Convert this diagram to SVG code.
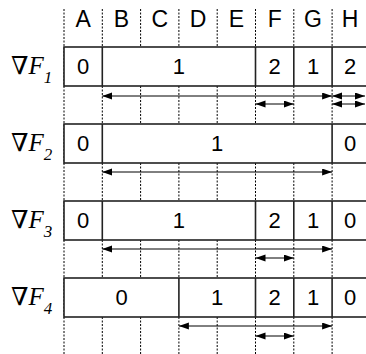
<svg xmlns="http://www.w3.org/2000/svg" width="366" height="354" viewBox="0 0 366 354">
<style>
.grid{stroke:#000;stroke-width:1;stroke-dasharray:2,1.5;fill:none}
.box{fill:#fff;stroke:#222;stroke-width:1.6}
.div{stroke:#222;stroke-width:1.6}
.col{font-family:"Liberation Sans",Arial,sans-serif;font-size:23px;text-anchor:middle;fill:#000}
.val{font-family:"Liberation Sans",Arial,sans-serif;font-size:22px;text-anchor:middle;fill:#000}
.lab{font-family:"Liberation Serif","Times New Roman",serif;font-size:25px;fill:#000}
.nab{font-family:"DejaVu Serif",serif;font-weight:normal}
.arr{stroke:#000;stroke-width:1;fill:none;marker-start:url(#ah);marker-end:url(#ah)}
</style>
<defs>
<marker id="ah" markerUnits="userSpaceOnUse" markerWidth="11" markerHeight="8" refX="10" refY="3.5" orient="auto-start-reverse">
<path d="M0,0 L10,3.5 L0,7 z" fill="#000"/>
</marker>
</defs>
<rect width="366" height="354" fill="#fff"/>
<g id="grid">
<line class="grid" x1="64" y1="9" x2="64" y2="354"/>
<line class="grid" x1="102.3" y1="9" x2="102.3" y2="354"/>
<line class="grid" x1="140.6" y1="9" x2="140.6" y2="354"/>
<line class="grid" x1="178.9" y1="9" x2="178.9" y2="354"/>
<line class="grid" x1="217.2" y1="9" x2="217.2" y2="354"/>
<line class="grid" x1="255.5" y1="9" x2="255.5" y2="354"/>
<line class="grid" x1="293.8" y1="9" x2="293.8" y2="354"/>
<line class="grid" x1="332.1" y1="9" x2="332.1" y2="354"/>
</g>
<g id="columns">
<text class="col" x="83.2" y="27">A</text>
<text class="col" x="121.5" y="27">B</text>
<text class="col" x="159.8" y="27">C</text>
<text class="col" x="198.1" y="27">D</text>
<text class="col" x="236.4" y="27">E</text>
<text class="col" x="274.7" y="27">F</text>
<text class="col" x="313" y="27">G</text>
<text class="col" x="350" y="27">H</text>
</g>
<g id="row1">
<text class="lab" x="11" y="74"><tspan class="nab" font-size="25">∇</tspan><tspan font-style="italic">F</tspan><tspan font-style="italic" font-size="17" dy="9">1</tspan></text>
<rect class="box" x="64" y="47" width="310" height="39"/>
<line class="div" x1="102.3" y1="47" x2="102.3" y2="86"/>
<line class="div" x1="255.5" y1="47" x2="255.5" y2="86"/>
<line class="div" x1="293.8" y1="47" x2="293.8" y2="86"/>
<line class="div" x1="332.1" y1="47" x2="332.1" y2="86"/>
<text class="val" x="83.2" y="74">0</text>
<text class="val" x="178.9" y="74">1</text>
<text class="val" x="274.7" y="74">2</text>
<text class="val" x="313" y="74">1</text>
<text class="val" x="350" y="74">2</text>
</g>
<g id="row2">
<text class="lab" x="11" y="151"><tspan class="nab" font-size="25">∇</tspan><tspan font-style="italic">F</tspan><tspan font-style="italic" font-size="17" dy="9">2</tspan></text>
<rect class="box" x="64" y="124" width="310" height="39"/>
<line class="div" x1="102.3" y1="124" x2="102.3" y2="163"/>
<line class="div" x1="332.1" y1="124" x2="332.1" y2="163"/>
<text class="val" x="83.2" y="151">0</text>
<text class="val" x="217.2" y="151">1</text>
<text class="val" x="350" y="151">0</text>
</g>
<g id="row3">
<text class="lab" x="11" y="228"><tspan class="nab" font-size="25">∇</tspan><tspan font-style="italic">F</tspan><tspan font-style="italic" font-size="17" dy="9">3</tspan></text>
<rect class="box" x="64" y="201" width="310" height="39"/>
<line class="div" x1="102.3" y1="201" x2="102.3" y2="240"/>
<line class="div" x1="255.5" y1="201" x2="255.5" y2="240"/>
<line class="div" x1="293.8" y1="201" x2="293.8" y2="240"/>
<line class="div" x1="332.1" y1="201" x2="332.1" y2="240"/>
<text class="val" x="83.2" y="228">0</text>
<text class="val" x="178.9" y="228">1</text>
<text class="val" x="274.7" y="228">2</text>
<text class="val" x="313" y="228">1</text>
<text class="val" x="350" y="228">0</text>
</g>
<g id="row4">
<text class="lab" x="11" y="305"><tspan class="nab" font-size="25">∇</tspan><tspan font-style="italic">F</tspan><tspan font-style="italic" font-size="17" dy="9">4</tspan></text>
<rect class="box" x="64" y="278" width="310" height="39"/>
<line class="div" x1="178.9" y1="278" x2="178.9" y2="317"/>
<line class="div" x1="255.5" y1="278" x2="255.5" y2="317"/>
<line class="div" x1="293.8" y1="278" x2="293.8" y2="317"/>
<line class="div" x1="332.1" y1="278" x2="332.1" y2="317"/>
<text class="val" x="121.5" y="305">0</text>
<text class="val" x="217.2" y="305">1</text>
<text class="val" x="274.7" y="305">2</text>
<text class="val" x="313" y="305">1</text>
<text class="val" x="350" y="305">0</text>
</g>
<g id="connectors">
<line class="arr" x1="102.3" y1="96" x2="332.1" y2="96"/>
<line class="arr" x1="332.1" y1="96" x2="365" y2="96"/>
<line class="arr" x1="255.5" y1="104" x2="293.8" y2="104"/>
<line class="arr" x1="332.1" y1="104" x2="365" y2="104"/>
<line class="arr" x1="102.3" y1="172" x2="332.1" y2="172"/>
<line class="arr" x1="102.3" y1="249" x2="332.1" y2="249"/>
<line class="arr" x1="255.5" y1="258" x2="293.8" y2="258"/>
<line class="arr" x1="178.9" y1="326" x2="332.1" y2="326"/>
<line class="arr" x1="255.5" y1="336" x2="293.8" y2="336"/>
</g>
</svg>
